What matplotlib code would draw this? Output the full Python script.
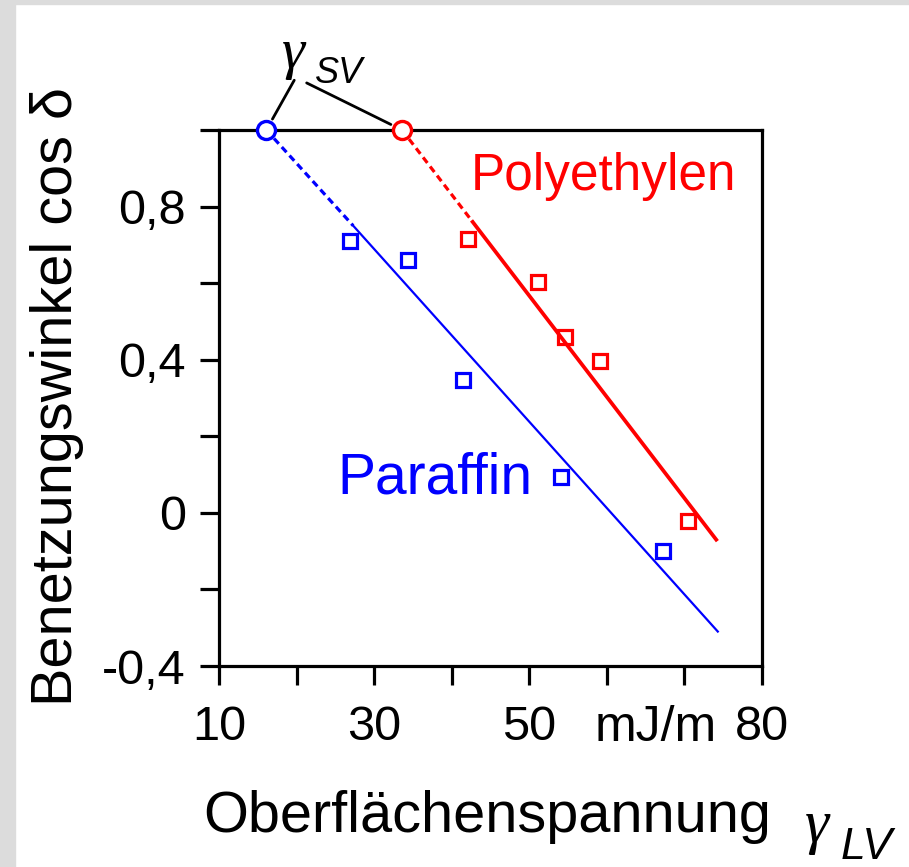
import matplotlib
matplotlib.use('Agg')
import matplotlib.pyplot as plt
from matplotlib.patches import Rectangle

paraffin_x = [26.9, 34.4, 41.5, 54.1, 67.2]
paraffin_y = [0.709, 0.661, 0.346, 0.094, -0.100]
polyethylen_x = [42.1, 51.1, 54.6, 59.1, 70.5]
polyethylen_y = [0.714, 0.604, 0.459, 0.396, -0.021]

# gamma_SV (cos = 1): Paraffin, Polyethylen
gamma_sv_x = [16.1, 33.6]
gamma_sv_y = [1.0, 1.0]

# Ausgleichsgeraden: Start (cos=1), Ende der Extrapolation, Ende
paraffin_fit_x = [16.1, 27.3, 74.3]
paraffin_fit_y = [1.0, 0.75, -0.31]
polyethylen_fit_x = [33.6, 42.7, 74.1]
polyethylen_fit_y = [1.0, 0.76, -0.07]

x_ticks = [10, 20, 30, 40, 50, 60, 70, 80]
x_ticklabels = ['10', '', '30', '', '50', '', '', '80']
y_ticks = [-0.4, -0.2, 0, 0.2, 0.4, 0.6, 0.8, 1.0]
y_ticklabels = ['-0,4', '', '0', '', '0,4', '', '0,8', '']

plt.rcParams['font.family'] = ['Liberation Sans', 'DejaVu Sans']

W, H = 909, 867
fig = plt.figure(figsize=(W / 100, H / 100), dpi=100)
fig.patches.append(Rectangle((0, 0), 15 / W, 1, transform=fig.transFigure,
                             color='#dcdcdc', zorder=-1))
fig.patches.append(Rectangle((0, 1 - 4 / H), 1, 4 / H, transform=fig.transFigure,
                             color='#dcdcdc', zorder=-1))

ax = fig.add_axes([219 / W, 201 / H, 543 / W, 536 / H])
ax.set_xlim(10, 80)
ax.set_ylim(-0.4, 1.0)

# Geraden
ax.plot(paraffin_fit_x[:2], paraffin_fit_y[:2], color='blue', lw=2.3,
        ls=(0, (2.2, 1.4)), solid_capstyle='butt')
ax.plot(paraffin_fit_x[1:], paraffin_fit_y[1:], color='blue', lw=1.6)
ax.plot(polyethylen_fit_x[:2], polyethylen_fit_y[:2], color='red', lw=2.3,
        ls=(0, (2.2, 1.4)))
ax.plot(polyethylen_fit_x[1:], polyethylen_fit_y[1:], color='red', lw=2.7)

# Messpunkte
ax.plot(paraffin_x, paraffin_y, 's', mfc='none', mec='blue', ms=10, mew=2.3)
ax.plot(polyethylen_x, polyethylen_y, 's', mfc='none', mec='red', ms=10, mew=2.3)
ax.plot(gamma_sv_x[0], gamma_sv_y[0], 'o', mfc='white', mec='blue', ms=13, mew=2.4,
        clip_on=False, zorder=5)
ax.plot(gamma_sv_x[1], gamma_sv_y[1], 'o', mfc='white', mec='red', ms=13, mew=2.4,
        clip_on=False, zorder=5)

# Achsen
for s in ax.spines.values():
    s.set_linewidth(2.3)
ax.set_xticks(x_ticks)
ax.set_xticklabels(x_ticklabels)
ax.set_yticks(y_ticks)
ax.set_yticklabels(y_ticklabels)
ax.tick_params(direction='out', length=14, width=2.3, labelsize=35)
ax.tick_params(axis='x', pad=14)
ax.tick_params(axis='y', pad=10)
ax.annotate('mJ/m', xy=(66.3, 0), xycoords=('data', 'axes fraction'),
            xytext=(0, -28), textcoords='offset points',
            ha='center', va='top', fontsize=36)

# Beschriftungen
ax.text(42.4, 0.8425, 'Polyethylen', color='red', fontsize=37, ha='left', va='baseline')
ax.text(25.2, 0.05, 'Paraffin', color='blue', fontsize=41, ha='left', va='baseline')

fig.text(203 / W, 35 / H, 'Oberflächenspannung', fontsize=41.5, ha='left', va='baseline')
fig.text(57 / W, 470 / H, 'Benetzungswinkel cos δ', fontsize=41.5, rotation=90,
         ha='center', va='center')

# gamma_SV mit Hinweislinien
fig.text(282 / W, (H - 68) / H, 'γ', fontsize=42, family='Liberation Serif',
         style='italic', ha='left', va='baseline')
fig.text(315 / W, (H - 83) / H, 'SV', fontsize=26, style='italic',
         ha='left', va='baseline')
ax.annotate('', xy=(gamma_sv_x[0], gamma_sv_y[0]), xytext=(19.7, 1.13),
            arrowprops=dict(arrowstyle='-', color='black', lw=2, shrinkA=0, shrinkB=9),
            annotation_clip=False)
ax.annotate('', xy=(gamma_sv_x[1], gamma_sv_y[1]), xytext=(21.3, 1.123),
            arrowprops=dict(arrowstyle='-', color='black', lw=2, shrinkA=0, shrinkB=9),
            annotation_clip=False)

# gamma_LV
fig.text(805 / W, (H - 842) / H, 'γ', fontsize=44, family='Liberation Serif',
         style='italic', ha='left', va='baseline')
fig.text(841 / W, (H - 859) / H, 'LV', fontsize=32, style='italic',
         ha='left', va='baseline')

fig.savefig('out.png', dpi=100, facecolor='white')
